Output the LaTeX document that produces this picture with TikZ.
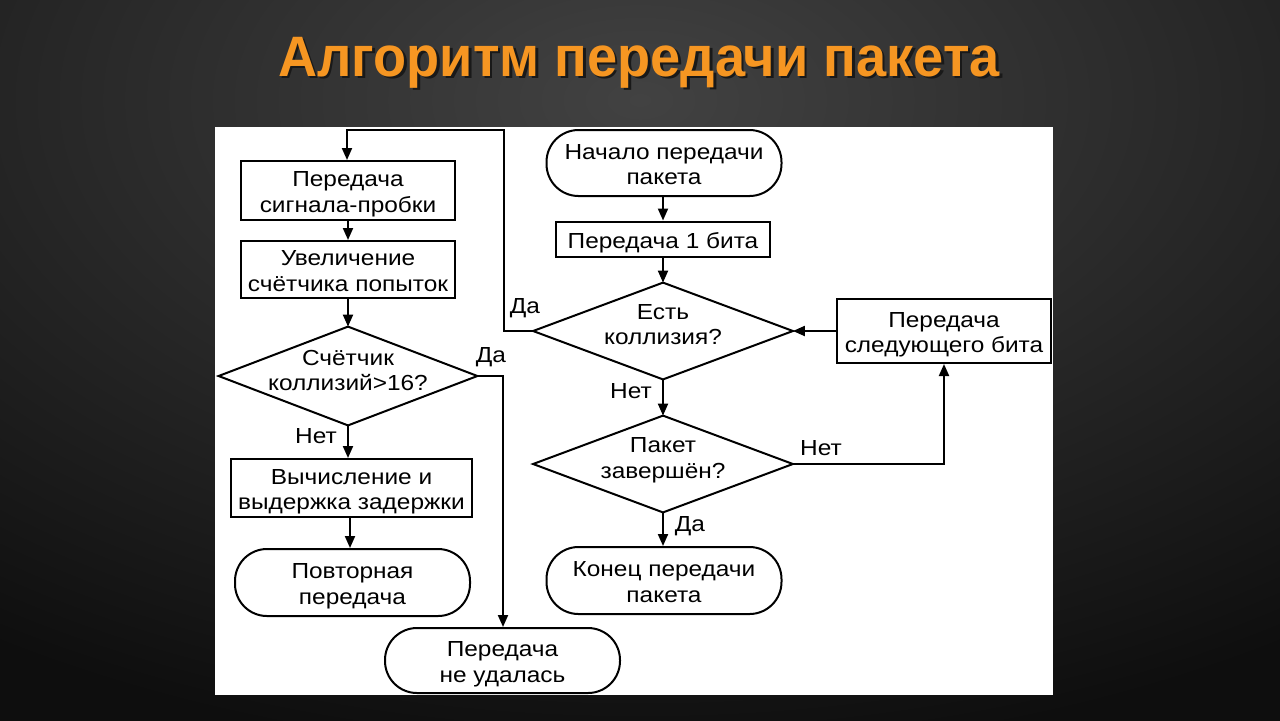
\documentclass[tikz,border=0pt]{standalone}
\usepackage{fontspec}
\setmainfont{Liberation Sans}[FakeStretch=1.12]
\newfontfamily\titlefont{Liberation Sans}[FakeStretch=0.95]
\usetikzlibrary{arrows.meta}
\definecolor{titleor}{RGB}{246,150,34}
\definecolor{bgin}{RGB}{66,66,66}
\definecolor{bgout}{RGB}{14,14,14}
\newcommand\st{\rule{0pt}{12pt}}
\newcommand\sd{\rule[-3pt]{0pt}{3pt}}
\begin{document}
\begin{tikzpicture}[x=0.5pt,y=-0.5pt,
  txt/.style={font=\fontsize{10.9}{12.85}\selectfont, align=center, inner sep=0pt},
  blk/.style={txt, draw=black, line width=1pt, fill=white},
  term/.style={blk, rounded corners=16pt, minimum width=117.5pt},
  dia/.style={inner sep=0pt, minimum width=129.5pt, minimum height=48pt},
  dline/.style={line width=1pt},
  lbl/.style={font=\fontsize{10.9}{12.85}\selectfont, inner sep=0pt},
  conn/.style={line width=1pt, -{Triangle[length=6pt,width=5pt]}},
  plain/.style={line width=1pt}
]
\useasboundingbox (0,0) rectangle (1280,720);
\fill[bgout] (0,0) rectangle (1280,720);
\begin{scope}
\clip (0,0) rectangle (1280,720);
\shade[inner color=bgin, outer color=bgout] (-500,-560) rectangle (1780,760);
\end{scope}
% title
\node[font=\titlefont\fontsize{28.5}{32}\selectfont\bfseries, text=black!90, anchor=base] (titleshadow) at (641.5,78.5) {Алгоритм передачи пакета};
\node[font=\titlefont\fontsize{28.5}{32}\selectfont\bfseries, text=titleor, anchor=base] (title) at (639,76) {Алгоритм передачи пакета};
% panel
\fill[white] (215,127) rectangle (1053,695);

% left column
\node[blk, minimum width=107pt, minimum height=29.5pt] (jam) at (348,190.5) {\st Передача\\сигнала-пробки\sd};
\node[blk, minimum width=107pt, minimum height=28.5pt] (inc) at (348,269.5) {\st Увеличение\\счётчика попыток\sd};
\node[dia, minimum width=129pt, minimum height=49pt] (cnt) at (348,376) {};
\draw[dline] (cnt.north) -- (cnt.east) -- (cnt.south) -- (cnt.west) -- cycle;
\node[txt] (cntT) at (348,369) {\st Счётчик\\коллизий>16?\sd};
\node[blk, minimum width=120.5pt, minimum height=29pt] (wait) at (351.5,488) {\st Вычисление и\\выдержка задержки\sd};
\node[term, minimum height=33.5pt] (retry) at (352.5,582.5) {\st Повторная\\передача\sd};
\node[term, minimum height=32.5pt] (fail) at (502.5,660.5) {\st Передача\\не удалась\sd};

% right column
\node[term, minimum height=33pt] (start) at (664,163) {\st Начало передачи\\пакета\sd};
\node[blk, minimum width=107pt, minimum height=17.5pt] (bit1) at (663,239) {\st Передача 1 бита\sd};
\node[dia] (coll) at (663,331) {};
\draw[dline] (coll.north) -- (coll.east) -- (coll.south) -- (coll.west) -- cycle;
\node[txt] (collT) at (663,323) {\st Есть\\коллизия?\sd};
\node[blk, minimum width=107pt, minimum height=32pt] (next) at (944,331) {\st Передача\\следующего бита\sd};
\node[dia] (done) at (663,464) {};
\draw[dline] (done.north) -- (done.east) -- (done.south) -- (done.west) -- cycle;
\node[txt] (doneT) at (663,456.6) {\st Пакет\\завершён?\sd};
\node[term, minimum height=33.5pt] (end) at (664,580.5) {\st Конец передачи\\пакета\sd};

% connectors right column
\draw[conn] (start.south -| coll.north) -- (bit1.north -| coll.north);
\draw[conn] (bit1.south -| coll.north) -- (coll.north);
\draw[conn] (coll.south) -- (done.north);
\draw[conn] (done.south) -- (end.north -| done.south);
\draw[conn] (next.west) -- (coll.east);
\draw[conn] (done.east) -| (next.south);
\coordinate (loopA) at (504,331);
\coordinate (loopB) at (504,130);
\coordinate (loopC) at (347,130);
\draw[conn] (coll.west) -- (loopA) -- (loopB) -- (loopC) -- (jam.north -| loopC);

% connectors left column
\draw[conn] (jam) -- (inc);
\draw[conn] (inc) -- (cnt.north);
\draw[conn] (cnt.south) -- (cnt.south |- wait.north);
\draw[conn] (wait.south -| 350,0) -- (retry.north -| 350,0);
\coordinate (failA) at (503,376);
\draw[conn] (cnt.east) -- (failA) -- (fail.north -| failA);

% labels
\node[lbl] (l1) at (525,308) {Да};
\node[lbl] (l2) at (491,357) {Да};
\node[lbl] (l3) at (316,436) {Нет};
\node[lbl] (l4) at (631,391) {Нет};
\node[lbl] (l5) at (821,448) {Нет};
\node[lbl] (l6) at (690,526) {Да};
\end{tikzpicture}
\end{document}
